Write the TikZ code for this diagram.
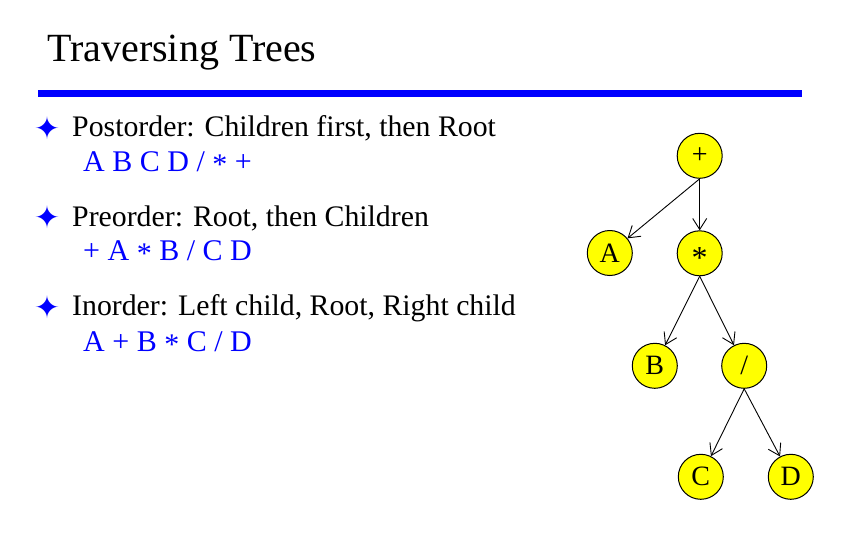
\documentclass[tikz,border=0pt]{standalone}
\usepackage{fontspec}
\setmainfont{Liberation Serif}
\newfontfamily\symfont{DejaVu Sans}
\usetikzlibrary{arrows.meta}
\definecolor{pblue}{RGB}{0,0,255}
\definecolor{pyellow}{RGB}{255,255,0}
\newcommand\lowstar{\raisebox{-3pt}{*}}
\tikzset{
  titletext/.style={anchor=base west, inner sep=0pt, font=\fontsize{40}{48}\selectfont},
  bodytext/.style={anchor=base west, inner sep=0pt, font=\fontsize{29.8}{36}\selectfont},
  bluetext/.style={anchor=base west, inner sep=0pt, text=pblue, font=\fontsize{30}{36}\selectfont},
  bulletmark/.style={anchor=center, inner sep=0pt, text=pblue, font=\symfont\fontsize{31}{36}\selectfont},
  treenode/.style={circle, draw=black, fill=pyellow, line width=1pt, minimum size=45pt, inner sep=0pt, font=\fontsize{28}{34}\selectfont},
  treeedge/.style={line width=0.9pt, -{Straight Barb[length=11pt,width=14pt]}}
}
\begin{document}
\begin{tikzpicture}[x=1pt,y=-1pt]
\useasboundingbox (0,0) rectangle (841,541);
\node[titletext] (title) at (47,61) {Traversing Trees};
\fill[pblue] (38,89.5) rectangle (802,96.5);
\node[bulletmark] (b1) at (47.5,128) {✦};
\node[bodytext] (t1) at (72,136.7) {Postorder: Children first, then Root};
\node[bluetext] (s1) at (83,171.5) {A B C D / \lowstar{} +};
\node[bulletmark] (b2) at (47.5,217.5) {✦};
\node[bodytext] (t2) at (72,226) {Preorder: Root, then Children};
\node[bluetext] (s2) at (83,260.7) {+ A \lowstar{} B / C D};
\node[bulletmark] (b3) at (47.5,307) {✦};
\node[bodytext] (t3) at (72,315.7) {Inorder: Left child, Root, Right child};
\node[bluetext] (s3) at (83,351.7) {A + B \lowstar{} C / D};
% tree
\node[treenode] (plus) at (699.7,155.8) {+};
\node[treenode] (a) at (609.8,253) {A};
\node[treenode] (star) at (699.7,253.3) {\raisebox{-15pt}[0pt][0pt]{\fontsize{32}{34}\selectfont *}};
\node[treenode] (b) at (654.8,365.8) {B};
\node[treenode] (slash) at (744.2,365.8) {/};
\node[treenode] (c) at (700.8,476.8) {C};
\node[treenode] (d) at (790.8,476.8) {D};
\draw[treeedge] (plus.south) -- (a);
\draw[treeedge] (plus.south) -- (star);
\draw[treeedge] (star.south) -- (b);
\draw[treeedge] (star.south) -- (slash);
\draw[treeedge] (slash.south) -- (c);
\draw[treeedge] (slash.south) -- (d);
\end{tikzpicture}
\end{document}
